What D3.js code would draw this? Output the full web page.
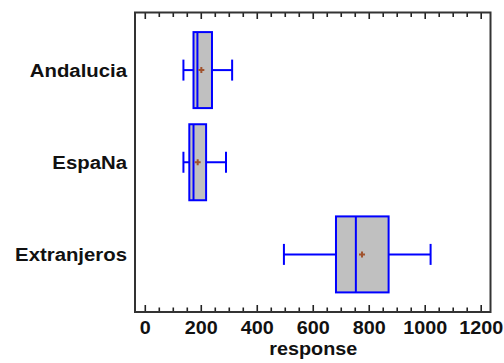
<!DOCTYPE html>
<html><head><meta charset="utf-8">
<script src="https://cdn.jsdelivr.net/npm/d3@7"></script>
<style>html,body{margin:0;padding:0;background:#fff;}</style>
</head><body>
<svg id="c" width="504" height="363"></svg>
<script>
const categories = ["Andalucia", "EspaNa", "Extranjeros"];
const whiskerLow  = [138, 138, 497];
const q1          = [174, 159, 683];
const medians     = [188, 174, 754];
const q3          = [240, 219, 871];
const whiskerHigh = [312, 290, 1021];
const means       = [202, 189, 776];
const majorTicks  = [0, 200, 400, 600, 800, 1000, 1200];
const xTitle = "response";

const svg = d3.select("#c");
const L = 135, R = 490.5, T = 12.5, B = 312;
const x = d3.scaleLinear().domain([-35, 1235]).range([L, R]);
const y = d3.scalePoint().domain(categories).range([T, B]).padding(0.625);
const font = "'Liberation Sans', Arial, sans-serif";

function stretch(sel, k) {
  sel.each(function() {
    const w = this.getComputedTextLength();
    d3.select(this).attr("textLength", w * k).attr("lengthAdjust", "spacingAndGlyphs");
  });
}

const minorTicks = d3.range(0, 1201, 50).filter(v => v % 200 !== 0);

// bottom axis (ticks pointing inward)
const gB = svg.append("g").attr("transform", `translate(0,${B})`);
gB.call(d3.axisBottom(x).tickValues(minorTicks).tickSize(-4.5).tickFormat(""));
gB.call(g => g.select(".domain").remove());
const gB2 = svg.append("g").attr("transform", `translate(0,${B})`);
gB2.call(d3.axisBottom(x).tickValues(majorTicks).tickSize(-7).tickPadding(0).tickFormat(d3.format("d")));
gB2.select(".domain").remove();
gB2.selectAll(".tick text").attr("y", 22).attr("dy", 0)
  .attr("font-family", font).attr("font-size", 18).attr("font-weight", "bold").attr("fill", "#111")
  .call(stretch, 1.1);

// top axis
const gT = svg.append("g").attr("transform", `translate(0,${T})`);
gT.call(d3.axisTop(x).tickValues(minorTicks).tickSize(-4.5).tickFormat(""));
gT.select(".domain").remove();
const gT2 = svg.append("g").attr("transform", `translate(0,${T})`);
gT2.call(d3.axisTop(x).tickValues(majorTicks).tickSize(-6.5).tickFormat(""));
gT2.select(".domain").remove();
svg.selectAll(".tick line").attr("stroke", "#222").attr("stroke-width", 1.6);

// frame
svg.append("rect").attr("x", L).attr("y", T).attr("width", R - L).attr("height", B - T)
  .attr("fill", "none").attr("stroke", "#333").attr("stroke-width", 2);

// category labels
svg.append("g").selectAll("text").data(categories).join("text")
  .attr("x", 127).attr("y", d => y(d) + 6.5).attr("text-anchor", "end")
  .attr("font-family", font).attr("font-size", 18).attr("font-weight", "bold").attr("fill", "#111")
  .text(d => d).call(stretch, 1.13);

// x title
svg.append("text").attr("x", (L + R) / 2 + 0.5).attr("y", 355).attr("text-anchor", "middle")
  .attr("font-family", font).attr("font-size", 18).attr("font-weight", "bold").attr("fill", "#111")
  .text(xTitle).call(stretch, 1.1);

// boxes
const blue = "#0000ff";
const bh = 38, ch = 10.5;
const boxes = svg.append("g").selectAll("g").data(categories).join("g");
boxes.append("line").attr("x1", (d, i) => x(whiskerLow[i])).attr("x2", (d, i) => x(q1[i]))
  .attr("y1", d => y(d)).attr("y2", d => y(d)).attr("stroke", blue).attr("stroke-width", 2);
boxes.append("line").attr("x1", (d, i) => x(q3[i])).attr("x2", (d, i) => x(whiskerHigh[i]))
  .attr("y1", d => y(d)).attr("y2", d => y(d)).attr("stroke", blue).attr("stroke-width", 2);
boxes.append("line").attr("x1", (d, i) => x(whiskerLow[i])).attr("x2", (d, i) => x(whiskerLow[i]))
  .attr("y1", d => y(d) - ch).attr("y2", d => y(d) + ch).attr("stroke", blue).attr("stroke-width", 2);
boxes.append("line").attr("x1", (d, i) => x(whiskerHigh[i])).attr("x2", (d, i) => x(whiskerHigh[i]))
  .attr("y1", d => y(d) - ch).attr("y2", d => y(d) + ch).attr("stroke", blue).attr("stroke-width", 2);
boxes.append("rect").attr("x", (d, i) => x(q1[i])).attr("width", (d, i) => x(q3[i]) - x(q1[i]))
  .attr("y", d => y(d) - bh).attr("height", 2 * bh)
  .attr("fill", "#c0c0c0").attr("stroke", blue).attr("stroke-width", 2);
boxes.append("line").attr("x1", (d, i) => x(medians[i])).attr("x2", (d, i) => x(medians[i]))
  .attr("y1", d => y(d) - bh).attr("y2", d => y(d) + bh).attr("stroke", blue).attr("stroke-width", 2);
// mean markers
const mc = "#a0522d", ms = 3;
boxes.append("path")
  .attr("d", (d, i) => `M${x(means[i]) - ms},${y(d)}h${2 * ms}M${x(means[i])},${y(d) - ms}v${2 * ms}`)
  .attr("stroke", mc).attr("stroke-width", 2).attr("fill", "none");
</script>
</body></html>
